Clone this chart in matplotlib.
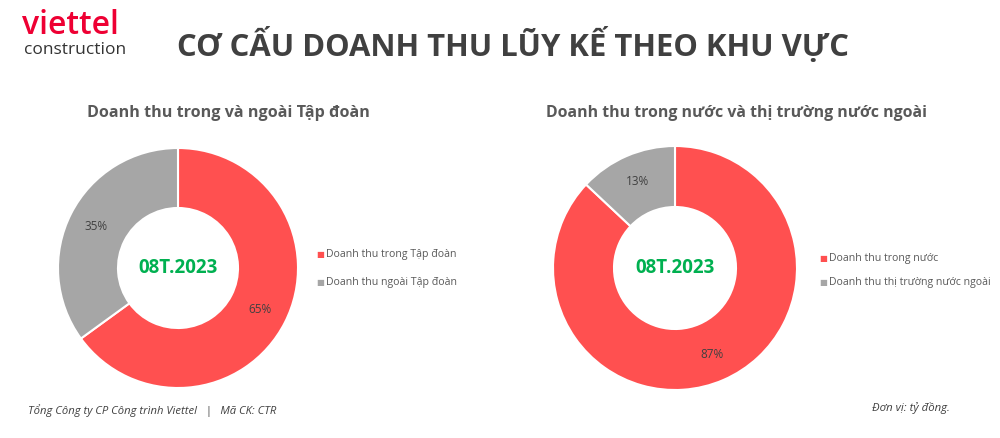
import matplotlib
matplotlib.use("Agg")
import matplotlib.pyplot as plt

W, H = 1000, 438
left_labels = ["Doanh thu trong Tập đoàn", "Doanh thu ngoài Tập đoàn"]
left_values = [65, 35]
right_labels = ["Doanh thu trong nước", "Doanh thu thị trường nước ngoài"]
right_values = [87, 13]
center_text = "08T.2023"
title = "CƠ CẤU DOANH THU LŨY KẾ THEO KHU VỰC"
left_title = "Doanh thu trong và ngoài Tập đoàn"
right_title = "Doanh thu trong nước và thị trường nước ngoài"
colors = ["#FF5050", "#A6A6A6"]

plt.rcParams['font.family'] = ['Open Sans', 'DejaVu Sans']
fig = plt.figure(figsize=(W/100, H/100), dpi=100)
fig.patch.set_facecolor("white")

def px_axes(cx, cy, r):
    return fig.add_axes([(cx - r)/W, 1 - (cy + r)/H, 2*r/W, 2*r/H])

def donut(cx, cy, r, values, pctd):
    ax = px_axes(cx, cy, r)
    ax.pie(values, colors=colors, startangle=90, counterclock=False,
           radius=1.0, wedgeprops=dict(width=0.5, edgecolor="white", linewidth=1.5),
           autopct="%d%%", pctdistance=pctd, textprops=dict(fontsize=8.5, color="#404040"))
    ax.set_xlim(-1, 1); ax.set_ylim(-1, 1)
    ax.set_aspect("equal")
    ax.axis("off")
    ax.text(0, 0, center_text, ha="center", va="center", fontsize=13.5, fontweight="bold", color="#00B050")
    return ax

donut(178, 268, 120, left_values, 0.77)
donut(675, 268, 122, right_values, 0.77)

def legend(x, ys, labels):
    for y, lab, c in zip(ys, labels, colors):
        fig.text(x/W, 1 - y/H, "■", color=c, fontsize=6, ha="left", va="center", family="DejaVu Sans")
        fig.text((x+10)/W, 1 - y/H, lab, color="#595959", fontsize=7.6, ha="left", va="center")

legend(316, [255, 282], left_labels)
legend(819, [259, 282], right_labels)

fig.text(228/W, 1 - 113/H, left_title, ha="center", va="center", fontsize=11.6, fontweight="bold", color="#595959")
fig.text(737/W, 1 - 113/H, right_title, ha="center", va="center", fontsize=11.4, fontweight="bold", color="#595959")

fig.text(513/W, 1 - 45/H, title, ha="center", va="center", fontsize=22.3, fontweight="bold", color="#404040")

fig.text(70/W, 1 - 25/H, "viettel", ha="center", va="center", fontsize=23, fontweight="semibold", color="#EE0033")
fig.text(75/W, 1 - 50/H, "construction", ha="center", va="center", fontsize=12.5, color="#333333")

fig.text(28/W, 1 - 411/H, "Tổng Công ty CP Công trình Viettel   |   Mã CK: CTR", ha="left", va="center",
         fontsize=8.1, style="italic", color="#404040")
fig.text(950/W, 1 - 408/H, "Đơn vị: tỷ đồng.", ha="right", va="center", fontsize=8.2, style="italic", color="#404040")

fig.savefig("out.png", dpi=100, facecolor="white")
